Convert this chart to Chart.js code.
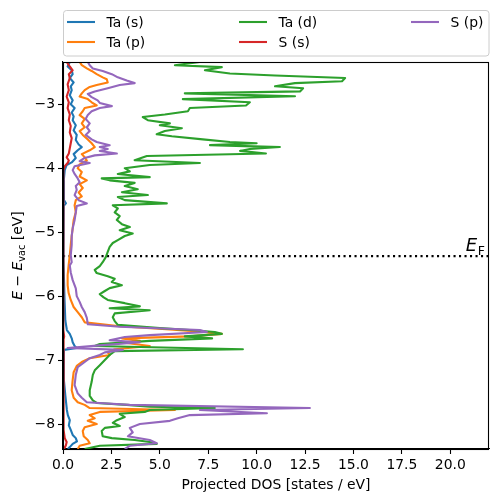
<!DOCTYPE html>
<html>
<head>
<meta charset="utf-8">
<script src="https://cdn.jsdelivr.net/npm/chart.js@4.4.1/dist/chart.umd.min.js"></script>
<style>
  body { margin: 0; background: #fff; }
  canvas { display: block; }
</style>
</head>
<body>
<canvas id="pdos" width="498" height="502"></canvas>
<script>
// ******* DATA : [energy (eV), projected DOS (states/eV)] ******************
let taS = [[-2.34,0.35],[-2.41,0.24],[-2.47,0.45],[-2.53,0.5],[-2.59,0.35],[-2.66,0.55],[-2.72,0.4],[-2.78,0.45],
  [-2.86,0.35],[-2.94,0.5],[-3.0,0.4],[-3.06,0.6],[-3.13,0.45],[-3.19,0.55],[-3.25,0.5],[-3.33,0.66],[-3.41,0.55],
  [-3.48,0.71],[-3.56,0.66],[-3.63,0.81],[-3.67,0.97],[-3.72,0.76],[-3.78,0.55],[-3.84,0.66],[-3.91,0.45],
  [-3.95,0.19],[-4.03,0.09],[-4.19,0.04],[-4.5,0.05],[-4.55,0.15],[-4.59,0.04],[-4.97,0.02],[-5.44,0.03],
  [-6.06,0.08],[-6.38,0.12],[-6.53,0.2],[-6.59,0.35],[-6.66,0.45],[-6.72,0.5],[-6.78,0.6],[-6.81,0.71],
  [-6.84,0.05],[-7.0,0.04],[-7.31,0.05],[-7.55,0.12],[-7.78,0.2],[-7.86,0.25],[-7.94,0.35],[-8.02,0.3],
  [-8.09,0.4],[-8.17,0.5],[-8.22,0.66],[-8.27,0.72],[-8.31,0.5],[-8.36,0.35],[-8.39,0.25]];

let taP = [[-2.34,0.86],[-2.39,0.97],[-2.44,1.23],[-2.48,1.48],[-2.53,1.74],[-2.58,2.05],[-2.61,2.26],[-2.66,2.31],
  [-2.7,1.74],[-2.73,1.38],[-2.78,1.12],[-2.83,0.97],[-2.88,0.86],[-2.92,1.28],[-2.97,1.48],[-3.02,1.74],
  [-3.06,1.12],[-3.11,1.02],[-3.17,0.86],[-3.23,1.12],[-3.3,0.97],[-3.36,1.12],[-3.42,0.86],[-3.48,1.02],
  [-3.55,1.28],[-3.61,1.48],[-3.67,1.64],[-3.72,1.38],[-3.78,0.97],[-3.83,1.12],[-3.88,1.23],[-3.94,0.86],
  [-4.0,0.76],[-4.06,0.97],[-4.13,0.86],[-4.19,1.23],[-4.25,0.86],[-4.31,1.02],[-4.38,0.81],[-4.44,0.97],
  [-4.5,0.66],[-4.58,0.6],[-4.69,0.66],[-4.81,0.55],[-4.94,0.5],[-5.06,0.45],[-5.2,0.4],[-5.36,0.35],
  [-5.52,0.29],[-5.67,0.24],[-5.83,0.24],[-5.95,0.29],[-6.06,0.4],[-6.17,0.55],[-6.25,0.76],[-6.33,0.97],
  [-6.41,1.12],[-6.47,2.93],[-6.52,5.52],[-6.56,7.33],[-6.59,8.2],[-6.63,6.55],[-6.66,3.04],[-6.7,3.97],
  [-6.73,3.19],[-6.78,4.48],[-6.83,2.67],[-6.88,2.31],[-6.92,2.41],[-6.97,1.38],[-7.03,0.97],[-7.09,0.71],
  [-7.19,0.55],[-7.31,0.5],[-7.47,0.45],[-7.59,0.55],[-7.66,0.76],[-7.7,1.12],[-7.75,1.38],[-7.78,5.78],
  [-7.81,1.9],[-7.86,1.38],[-7.91,1.64],[-7.95,1.28],[-8.0,1.74],[-8.05,1.12],[-8.11,1.02],[-8.19,1.07],
  [-8.25,1.28],[-8.3,1.38],[-8.34,0.86],[-8.39,0.76]];

let taD = [[-2.34,7.07],[-2.39,5.78],[-2.42,8.2],[-2.47,7.33],[-2.52,8.62],[-2.55,10.95],[-2.59,14.57],[-2.64,14.41],
  [-2.67,11.98],[-2.72,10.95],[-2.75,12.4],[-2.8,12.24],[-2.83,6.29],[-2.875,11.98],[-2.92,6.19],[-2.97,9.65],
  [-3.02,9.45],[-3.06,6.55],[-3.11,6.45],[-3.16,5.26],[-3.2,4.12],[-3.25,4.38],[-3.3,5.52],[-3.33,5.0],
  [-3.375,6.14],[-3.42,5.26],[-3.47,4.84],[-3.5,5.62],[-3.55,7.22],[-3.59,8.62],[-3.61,10.0],[-3.64,7.59],
  [-3.67,11.2],[-3.7,9.65],[-3.73,9.14],[-3.77,10.48],[-3.81,4.33],[-3.875,3.7],[-3.92,7.07],[-3.95,4.48],
  [-4.0,3.19],[-4.05,3.45],[-4.09,2.83],[-4.14,4.48],[-4.16,2.0],[-4.19,2.41],[-4.23,3.7],[-4.28,3.19],
  [-4.33,3.86],[-4.375,3.04],[-4.42,4.38],[-4.45,2.83],[-4.5,3.19],[-4.55,5.36],[-4.58,2.57],[-4.63,2.83],
  [-4.69,2.67],[-4.75,2.93],[-4.81,2.78],[-4.875,3.04],[-4.92,3.45],[-4.97,2.93],[-5.02,3.6],[-5.06,3.19],
  [-5.125,2.83],[-5.17,2.57],[-5.23,2.41],[-5.31,2.31],[-5.39,2.21],[-5.47,2.05],[-5.53,1.9],[-5.59,1.64],
  [-5.64,1.74],[-5.69,2.31],[-5.73,2.67],[-5.78,2.52],[-5.83,3.04],[-5.875,2.41],[-5.92,2.16],[-5.97,1.9],
  [-6.02,2.1],[-6.06,2.31],[-6.11,3.19],[-6.16,3.97],[-6.19,2.41],[-6.22,4.48],[-6.27,2.67],[-6.33,2.57],
  [-6.39,2.67],[-6.45,2.83],[-6.5,5.0],[-6.53,6.55],[-6.56,7.84],[-6.59,8.2],[-6.63,6.29],[-6.66,7.7],
  [-6.7,4.48],[-6.75,1.9],[-6.78,1.64],[-6.83,9.29],[-6.86,2.67],[-6.92,2.41],[-7.0,2.16],[-7.08,1.9],
  [-7.16,1.64],[-7.23,1.54],[-7.34,1.48],[-7.47,1.38],[-7.56,1.38],[-7.63,1.54],[-7.67,1.74],[-7.7,3.29],
  [-7.73,4.48],[-7.75,7.84],[-7.78,4.48],[-7.81,4.22],[-7.84,2.93],[-7.89,3.19],[-7.94,2.78],[-7.98,2.57],
  [-8.03,2.93],[-8.06,2.16],[-8.11,2.0],[-8.19,2.05],[-8.22,2.52],[-8.25,3.7],[-8.28,4.48],[-8.31,4.84],
  [-8.34,1.9],[-8.39,1.12]];

let sS = [[-2.34,0.19],[-2.41,0.35],[-2.47,0.5],[-2.53,0.3],[-2.59,0.35],[-2.69,0.24],[-2.78,0.3],[-2.88,0.19],
  [-2.97,0.3],[-3.06,0.24],[-3.16,0.35],[-3.25,0.3],[-3.34,0.4],[-3.44,0.35],[-3.53,0.45],[-3.61,0.4],
  [-3.69,0.35],[-3.77,0.3],[-3.83,0.19],[-3.88,0.3],[-3.92,0.24],[-3.97,0.09],[-4.03,0.02],[-4.5,0.01],
  [-6.06,0.01],[-6.53,0.03],[-6.63,0.06],[-6.69,0.02],[-8.09,0.03],[-8.22,0.09],[-8.28,0.19],[-8.33,0.15],
  [-8.39,0.05]];

let sP = [[-2.34,1.28],[-2.39,1.38],[-2.44,1.54],[-2.48,2.05],[-2.53,2.52],[-2.58,2.83],[-2.63,3.29],[-2.67,3.7],
  [-2.7,2.93],[-2.75,2.31],[-2.8,1.64],[-2.84,1.28],[-2.89,1.48],[-2.94,1.79],[-2.98,1.9],[-3.03,2.52],
  [-3.06,1.9],[-3.11,1.48],[-3.17,1.28],[-3.23,1.17],[-3.3,1.38],[-3.36,1.23],[-3.42,1.38],[-3.48,1.17],
  [-3.55,1.48],[-3.59,1.74],[-3.64,2.41],[-3.67,1.9],[-3.7,2.31],[-3.73,1.9],[-3.77,2.78],[-3.8,1.64],
  [-3.84,1.12],[-3.89,0.86],[-3.92,1.38],[-3.97,0.6],[-4.03,0.5],[-4.09,0.6],[-4.16,0.76],[-4.22,0.86],
  [-4.28,0.66],[-4.34,0.71],[-4.42,0.6],[-4.5,0.81],[-4.55,1.23],[-4.59,0.71],[-4.69,0.66],[-4.81,0.6],
  [-4.94,0.5],[-5.06,0.45],[-5.2,0.45],[-5.36,0.4],[-5.47,0.45],[-5.52,0.35],[-5.63,0.4],[-5.75,0.5],
  [-5.88,0.66],[-6.0,0.71],[-6.09,0.86],[-6.17,0.97],[-6.25,1.12],[-6.34,1.23],[-6.44,1.28],[-6.48,2.93],
  [-6.53,7.07],[-6.56,7.43],[-6.61,4.48],[-6.64,3.19],[-6.69,2.41],[-6.72,3.97],[-6.77,1.9],[-6.81,0.24],
  [-6.84,3.09],[-6.88,2.16],[-6.92,1.9],[-6.97,1.38],[-7.03,1.12],[-7.11,0.76],[-7.23,0.66],[-7.39,0.6],
  [-7.52,0.76],[-7.59,0.97],[-7.66,1.23],[-7.7,3.45],[-7.75,12.75],[-7.78,7.07],[-7.83,10.53],[-7.86,6.55],
  [-7.91,5.93],[-7.95,5.52],[-8.0,3.97],[-8.06,3.45],[-8.13,3.6],[-8.19,3.35],[-8.25,4.48],[-8.3,4.84],
  [-8.34,3.45],[-8.39,3.19]];

let seriesNames = ['Ta (s)', 'Ta (p)', 'Ta (d)', 'S (s)', 'S (p)'];
let seriesColors = ['#1f77b4', '#ff7f0e', '#2ca02c', '#d62728', '#9467bd'];
let seriesData = [taS, taP, taD, sS, sP];

let fermiLevel = -5.375;
let xTicks = [0, 2.5, 5, 7.5, 10, 12.5, 15, 17.5, 20];
let yTicks = [-8, -7, -6, -5, -4, -3];

// ******* DATASETS ******************
let datasets = [];
for (let i = 0; i < seriesData.length; i++) {
  datasets.push({
    label: seriesNames[i],
    data: seriesData[i].map(p => ({x: p[1], y: p[0]})),
    showLine: true,
    borderColor: seriesColors[i],
    backgroundColor: seriesColors[i],
    borderWidth: 2.1,
    pointRadius: 0,
    tension: 0,
    borderJoinStyle: 'round',
    borderCapStyle: 'butt',
    clip: 0,
    order: seriesData.length - i  // last one on top, like matplotlib
  });
}
// fermi level dotted line
datasets.push({
  label: 'EF',
  data: [{x: 0, y: fermiLevel}, {x: 22, y: fermiLevel}],
  showLine: true,
  borderColor: '#000',
  borderWidth: 2.1,
  borderDash: [2.1, 3.4],
  pointRadius: 0,
  clip: 0,
  order: 10
});

const FONT = 'DejaVu Sans';

// draws the frame, E_F label, legend and axis titles
let extrasPlugin = {
  id: 'extras',
  afterDraw(chart) {
    let c = chart.ctx;
    let a = chart.chartArea;
    let xs = chart.scales.x, ys = chart.scales.y;
    c.save();

    // frame
    c.strokeStyle = '#000';
    c.lineWidth = 1.1;
    c.strokeRect(a.left + 0.5, a.top + 0.5, a.right - a.left - 1, a.bottom - a.top);

    // E_F label
    let ex = xs.getPixelForValue(20.8);
    let ey = ys.getPixelForValue(fermiLevel) - 5;
    c.fillStyle = '#000';
    c.textBaseline = 'alphabetic';
    c.textAlign = 'left';
    c.font = 'oblique 18px ' + FONT;
    c.fillText('E', ex, ey);
    let w = c.measureText('E').width;
    c.font = '12.5px ' + FONT;
    c.fillText('F', ex + w + 0.5, ey + 3.5);

    // x title
    c.font = '13.9px ' + FONT;
    c.textAlign = 'center';
    c.fillText('Projected DOS [states / eV]', (a.left + a.right) / 2, 489);

    // y title (rotated, mathtext-ish)
    c.save();
    c.translate(22, (a.top + a.bottom) / 2);
    c.rotate(-Math.PI / 2);
    c.textAlign = 'left';
    let parts = [
      ['oblique 13.9px ' + FONT, 'E', 0],
      ['13.9px ' + FONT, ' \u2212 ', 0],
      ['oblique 13.9px ' + FONT, 'E', 0],
      ['9.7px ' + FONT, 'vac', 3],
      ['13.9px ' + FONT, ' [eV]', 0]
    ];
    let total = 0;
    parts.forEach(p => { c.font = p[0]; total += c.measureText(p[1]).width; });
    let px = -total / 2;
    parts.forEach(p => {
      c.font = p[0];
      c.fillText(p[1], px, p[2]);
      px += c.measureText(p[1]).width;
    });
    c.restore();

    // legend box
    let bx = 63.5, by = 10.5, bw = 425.5, bh = 45.5, r = 3;
    c.beginPath();
    c.moveTo(bx + r, by);
    c.arcTo(bx + bw, by, bx + bw, by + bh, r);
    c.arcTo(bx + bw, by + bh, bx, by + bh, r);
    c.arcTo(bx, by + bh, bx, by, r);
    c.arcTo(bx, by, bx + bw, by, r);
    c.closePath();
    c.fillStyle = 'rgba(255,255,255,0.8)';
    c.fill();
    c.strokeStyle = '#cccccc';
    c.lineWidth = 1;
    c.stroke();

    // legend entries, column-major (3 columns)
    let colX = [67, 239, 411];
    let rowY = [22, 42];
    c.font = '13.9px ' + FONT;
    c.textAlign = 'left';
    c.textBaseline = 'middle';
    for (let i = 0; i < seriesNames.length; i++) {
      let col = Math.floor(i / 2), row = i % 2;
      let lx = colX[col], ly = rowY[row];
      c.strokeStyle = seriesColors[i];
      c.lineWidth = 2.1;
      c.beginPath();
      c.moveTo(lx, ly);
      c.lineTo(lx + 28, ly);
      c.stroke();
      c.fillStyle = '#000';
      c.fillText(seriesNames[i], lx + 39.5, ly + 1);
    }
    c.restore();
  }
};

let tickFont = {family: FONT, size: 13.9};

new Chart(document.getElementById('pdos'), {
  type: 'scatter',
  data: {datasets: datasets},
  options: {
    responsive: false,
    animation: false,
    layout: {padding: {left: 0, right: 9, top: 62, bottom: 0}},
    plugins: {legend: {display: false}, tooltip: {enabled: false}},
    scales: {
      x: {
        type: 'linear', min: 0, max: 22,
        afterBuildTicks: axis => { axis.ticks = xTicks.map(v => ({value: v})); },
        afterFit: scale => { scale.height = 53; },
        ticks: {callback: v => v.toFixed(1), font: tickFont, color: '#000', padding: 3, maxRotation: 0, autoSkip: false},
        grid: {drawOnChartArea: false, drawTicks: true, tickLength: 5, color: '#000', tickWidth: 1.1},
        border: {color: '#000', width: 1.1}
      },
      y: {
        type: 'linear', min: -8.39, max: -2.34,
        afterBuildTicks: axis => { axis.ticks = yTicks.map(v => ({value: v})); },
        afterFit: scale => { scale.width = 63; },
        ticks: {callback: v => String(v).replace('-', '\u2212'), font: tickFont, color: '#000', padding: 3, autoSkip: false},
        grid: {drawOnChartArea: false, drawTicks: true, tickLength: 5, color: '#000', tickWidth: 1.1},
        border: {color: '#000', width: 1.1}
      }
    }
  },
  plugins: [extrasPlugin]
});
</script>
</body>
</html>
